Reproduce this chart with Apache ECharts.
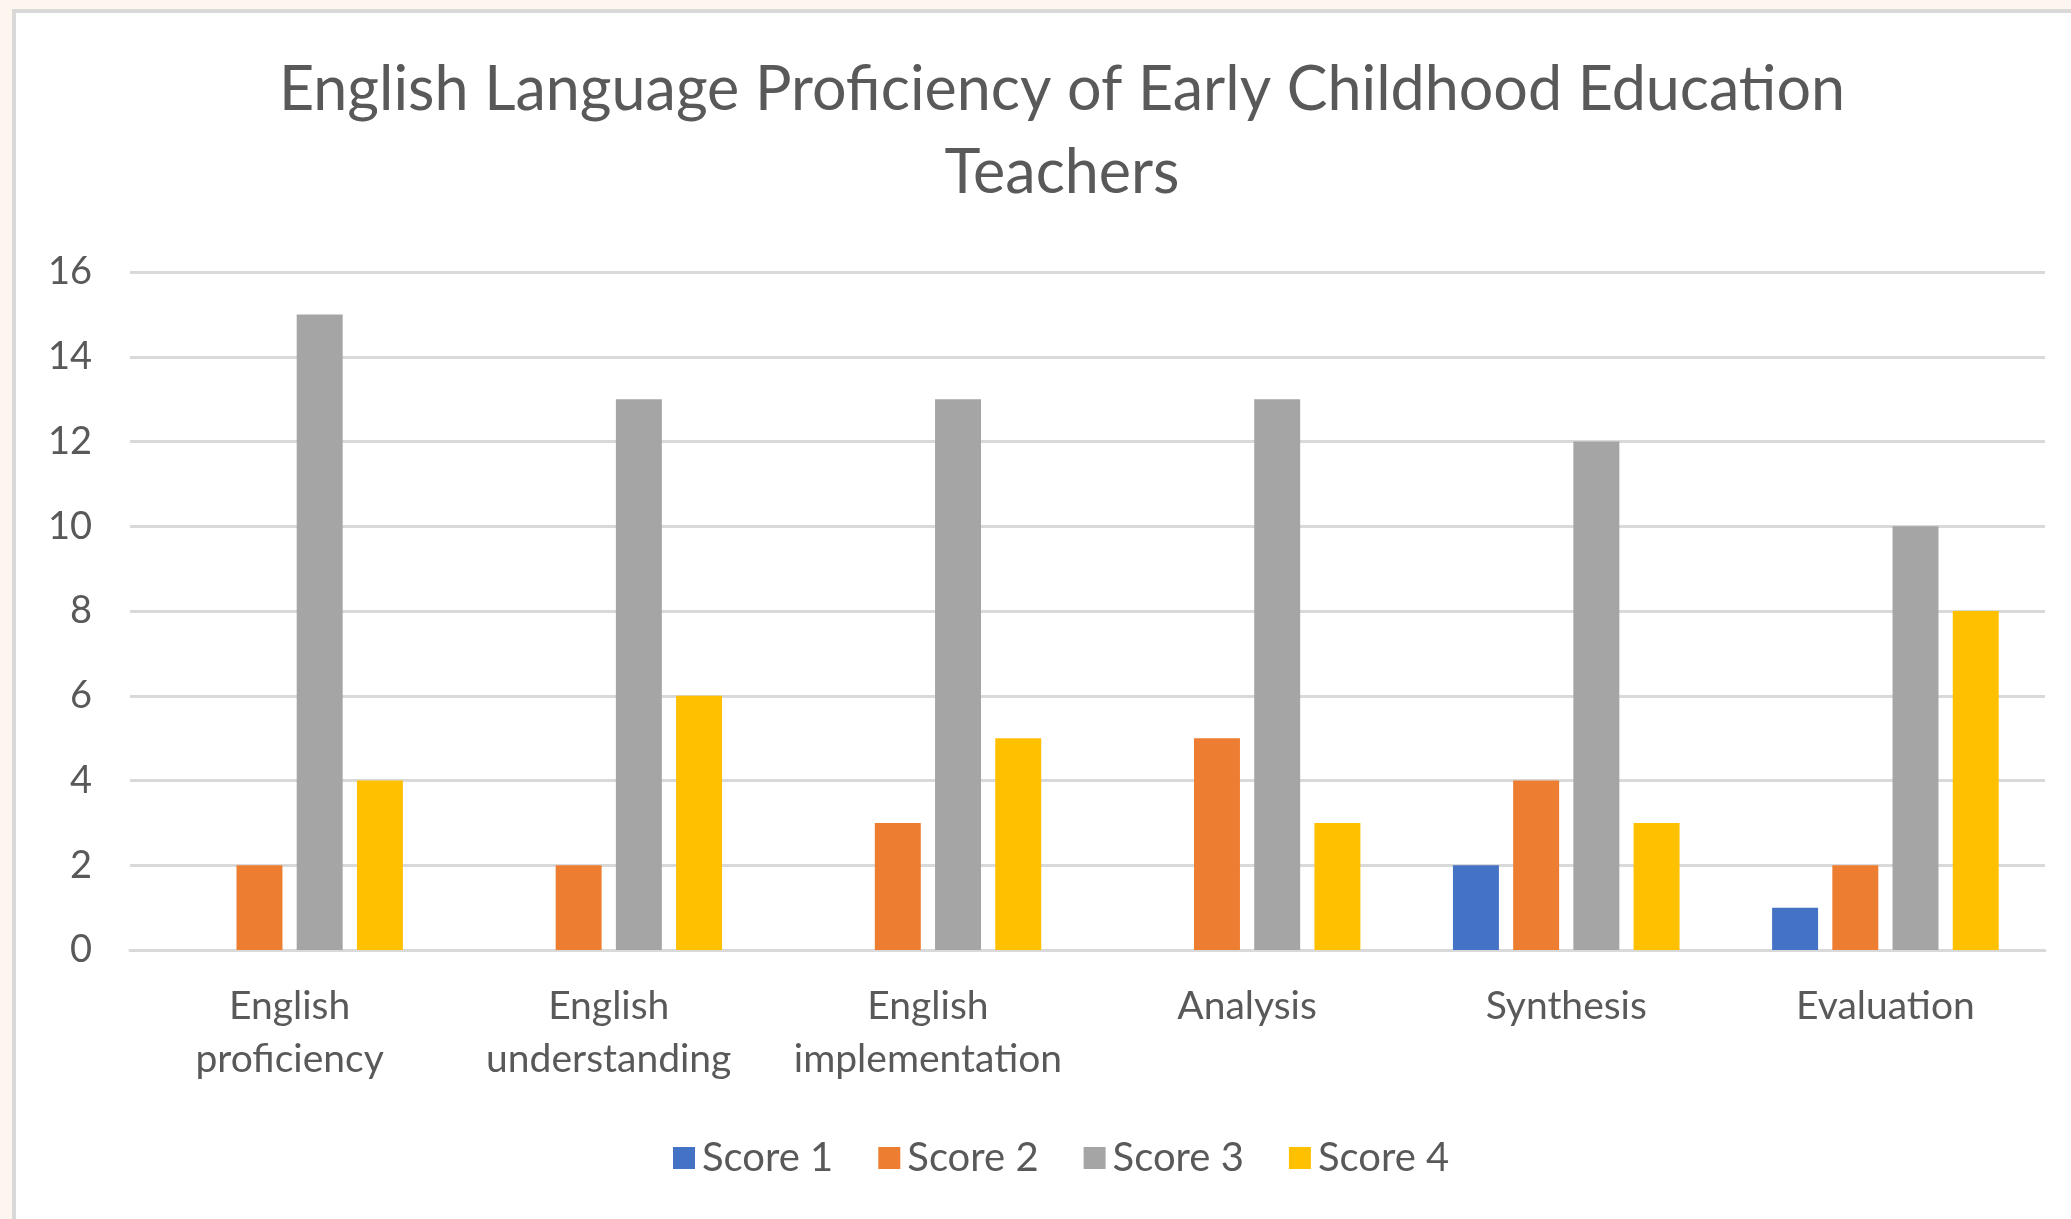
<!DOCTYPE html>
<html>
<head>
<meta charset="utf-8">
<script src="https://cdn.jsdelivr.net/npm/echarts@6/dist/echarts.min.js"></script>
<style>
  html, body { margin: 0; padding: 0; width: 2071px; height: 1219px; overflow: hidden; background: #fcf6ee; }
  #panel { position: absolute; left: 12px; top: 9px; width: 2080px; height: 1230px; background: #fff; border: 4px solid #d9d9d9; box-sizing: border-box; }
  #chart { position: absolute; left: 0; top: 0; width: 2071px; height: 1219px; }
</style>
</head>
<body>
<div id="panel"></div>
<div id="chart"></div>
<script>
// categories and series values
const categories = ['English\nproficiency', 'English\nunderstanding', 'English\nimplementation', 'Analysis', 'Synthesis', 'Evaluation'];
const score1 = [0, 0, 0, 0, 2, 1];
const score2 = [2, 2, 3, 5, 4, 2];
const score3 = [15, 13, 13, 13, 12, 10];
const score4 = [4, 6, 5, 3, 3, 8];
const seriesNames = ['Score 1', 'Score 2', 'Score 3', 'Score 4'];
const colors = ['#4472C4', '#ED7D31', '#A5A5A5', '#FFC000'];

const font = 'Lato, "Open Sans", sans-serif';
const textColor = '#595959';

const chart = echarts.init(document.getElementById('chart'));

function barSeries(name, data, i) {
  return {
    name: name,
    type: 'bar',
    data: data,
    barGap: '31%',
    barCategoryGap: '29%',
    itemStyle: { color: colors[i] }
  };
}

chart.setOption({
  animation: false,
  title: {
    text: 'English Language Proficiency of Early Childhood Education\nTeachers',
    left: 1057,
    top: 44,
    textAlign: 'center',
    textStyle: { fontFamily: font, fontSize: 61, fontWeight: 'normal', color: textColor, lineHeight: 83 }
  },
  legend: {
    data: seriesNames,
    left: 668,
    top: 1133,
    icon: 'rect',
    itemWidth: 22,
    itemHeight: 22,
    itemGap: 45,
    textStyle: { fontFamily: font, fontSize: 40, color: textColor, padding: [0, 0, 0, 2] }
  },
  grid: { left: 130, right: 26, top: 272, bottom: 269 },
  xAxis: {
    type: 'category',
    data: categories,
    axisLine: { lineStyle: { color: '#d9d9d9', width: 3 } },
    axisTick: { show: false },
    axisLabel: { fontFamily: font, fontSize: 39, color: textColor, lineHeight: 53, margin: 30, interval: 0 }
  },
  yAxis: {
    type: 'value',
    min: 0,
    max: 16,
    interval: 2,
    axisLine: { show: false },
    axisTick: { show: false },
    splitLine: { lineStyle: { color: '#d9d9d9', width: 3 } },
    axisLabel: { fontFamily: font, fontSize: 38, color: textColor, margin: 38 }
  },
  series: [
    barSeries(seriesNames[0], score1, 0),
    barSeries(seriesNames[1], score2, 1),
    barSeries(seriesNames[2], score3, 2),
    barSeries(seriesNames[3], score4, 3)
  ]
});
</script>
</body>
</html>
